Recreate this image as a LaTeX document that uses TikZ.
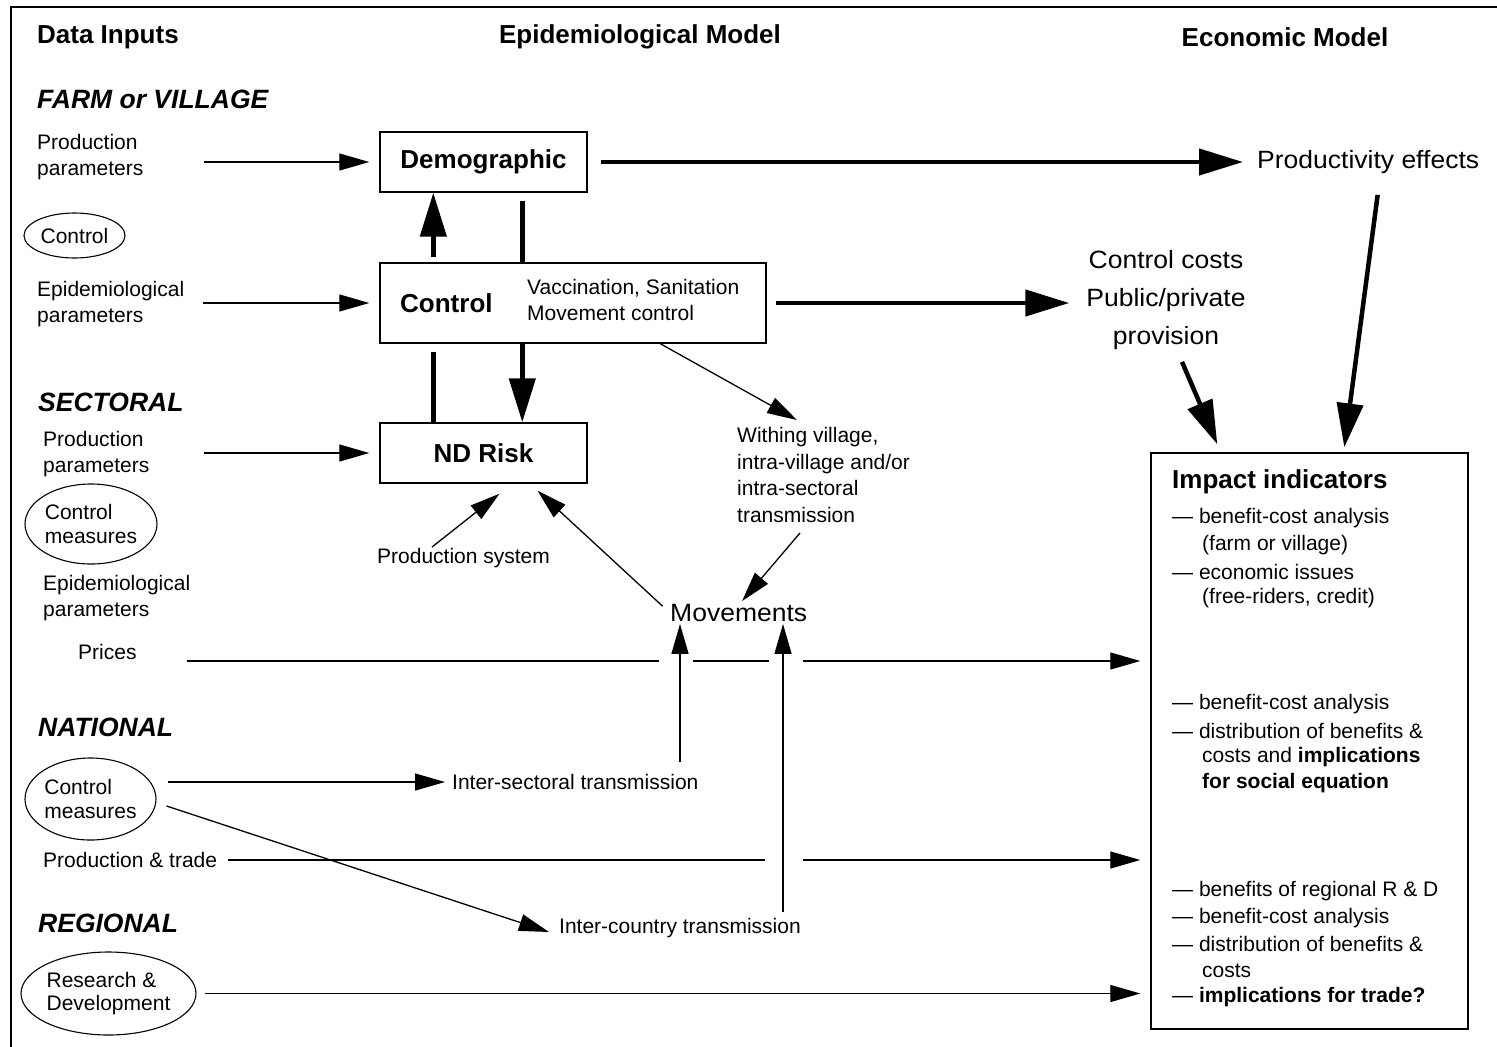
\documentclass[tikz,border=0pt]{standalone}
\usepackage{fontspec}
\setmainfont{Liberation Sans}
\newfontfamily\widefont[FakeStretch=1.06]{Liberation Sans}
\usetikzlibrary{arrows.meta,shapes.geometric,calc}
\begin{document}
\begin{tikzpicture}[x=1pt,y=-1pt,
  txt/.style={inner sep=0pt,font=\fontsize{21}{26}\selectfont,align=left},
  hdr/.style={inner sep=0pt,font=\fontsize{26}{30}\selectfont\bfseries},
  lvl/.style={inner sep=0pt,font=\fontsize{26.5}{30}\selectfont\bfseries\itshape},
  big/.style={inner sep=0pt,font=\widefont\fontsize{25}{38}\selectfont,align=center},
  boxn/.style={draw,line width=1.4pt,inner sep=0pt,font=\fontsize{26}{30}\selectfont\bfseries},
  btxt/.style={inner sep=0pt,font=\fontsize{26}{30}\selectfont\bfseries},
  ell/.style={draw,ellipse,line width=1.1pt,inner sep=0pt,font=\fontsize{21}{23.5}\selectfont,align=left},
  tarr/.style={line width=1.3pt,-{Triangle[length=30pt,width=17pt]}},
  karr/.style={line width=4.5pt,-{Triangle[length=44pt,width=26pt]}},
  kline/.style={line width=4.5pt}]
\useasboundingbox (0,0) rectangle (1497,1047);
% frame
\draw[line width=1.5pt] (11,1047) -- (11,7) -- (1497,7);

% headers
\node[hdr,anchor=west] (hdata) at (37,37) {Data Inputs};
\node[hdr] (hepi) at (640,37) {Epidemiological Model};
\node[hdr] (heco) at (1285,37) {Economic Model};
\node[lvl,anchor=west] (lfarm) at (37,99) {FARM or VILLAGE};
\node[lvl,anchor=west] (lsect) at (38,402) {SECTORAL};
\node[lvl,anchor=west] (lnat) at (38,727) {NATIONAL};
\node[lvl,anchor=west] (lreg) at (38,923) {REGIONAL};

% left inputs
\node[txt,anchor=west] (pp1) at (37,157.5) {Production\\parameters};
\node[ell,minimum width=101pt,minimum height=45pt] (ctl1) at (74.5,235.5) {Control};
\node[txt,anchor=west] (ep1) at (37,304) {Epidemiological\\parameters};
\node[txt,anchor=west] (pp2) at (43,454.5) {Production\\parameters};
\node[ell,minimum width=132pt,minimum height=80pt] (ctl2) at (91,524) {Control\\measures};
\node[txt,anchor=west] (ep2) at (43,598) {Epidemiological\\parameters};
\node[txt,anchor=west] (prices) at (78,652) {Prices};
\node[ell,minimum width=131pt,minimum height=82pt] (ctl3) at (90.5,799) {Control\\measures};
\node[txt,anchor=west] (ptrade) at (43,860) {Production \& trade};
\node[ell,minimum width=167pt,minimum height=83pt] (rd) at (108.5,993.5) {Research \&\\Development};

% epidemiological model
\node[boxn,minimum width=207pt,minimum height=60pt] (demo) at (483.5,162) {Demographic};
\node[boxn,minimum width=386pt,minimum height=80pt] (control) at (573,303) {};
\node[btxt,anchor=west] (ctltxt) at (400,303) {Control};
\node[txt,anchor=west] (vacc) at (527,300) {Vaccination, Sanitation\\Movement control};
\node[boxn,minimum width=207pt,minimum height=60pt] (ndrisk) at (483.5,453) {ND Risk};
\node[txt,anchor=west] (prodsys) at (377,558) {Production system};
\node[txt,anchor=west,font=\fontsize{21}{26.7}\selectfont] (withing) at (737,475) {Withing village,\\intra-village and/or\\intra-sectoral\\transmission};
\node[big,anchor=west] (mov) at (670,613) {Movements};
\node[txt,anchor=west] (intersec) at (452,782) {Inter-sectoral transmission};
\node[txt,anchor=west] (intercty) at (559,928) {Inter-country transmission};

% economic model
\node[big,anchor=west] (prodeff) at (1257,162) {Productivity effects};
\node[big] (costs) at (1166,300) {Control costs\\Public/private\\provision};
\node[draw,line width=1.4pt,inner sep=0pt,minimum width=317pt,minimum height=576pt] (impact) at (1309.5,741) {};
\node[btxt,anchor=west] (imph) at (1172,482) {Impact indicators};
\node[txt,anchor=west] (i1) at (1172,518) {— benefit-cost analysis};
\node[txt,anchor=west] (i2) at (1202,545) {(farm or village)};
\node[txt,anchor=west] (i3) at (1172,572) {— economic issues};
\node[txt,anchor=west] (i4) at (1202,598) {(free-riders, credit)};
\node[txt,anchor=west] (i5) at (1172,704) {— benefit-cost analysis};
\node[txt,anchor=west] (i6) at (1172,731) {— distribution of benefits \&};
\node[txt,anchor=west] (i7) at (1202,757) {costs and \textbf{implications}};
\node[txt,anchor=west] (i8) at (1202,783) {\textbf{for social equation}};
\node[txt,anchor=west] (i9) at (1172,891) {— benefits of regional R \& D};
\node[txt,anchor=west] (i10) at (1172,918) {— benefit-cost analysis};
\node[txt,anchor=west] (i11) at (1172,944) {— distribution of benefits \&};
\node[txt,anchor=west] (i12) at (1202,971) {costs};
\node[txt,anchor=west] (i13) at (1172,997) {— \textbf{implications for trade?}};

% input arrows
\draw[tarr,shorten <=60pt,shorten >=10pt] (pp1.east |- demo.west) -- (demo.west);
\draw[tarr,shorten <=19pt,shorten >=10pt] (ep1.east |- control.west) -- (control.west);
\draw[tarr,shorten <=54pt,shorten >=10pt] (pp2.east |- ndrisk.west) -- (ndrisk.west);

% thick arrows
\draw[karr,shorten <=13pt,shorten >=14pt] (demo.east) -- (prodeff.west);
\draw[karr,shorten <=9pt,shorten >=17pt] (control.east) -- (control.east -| costs.west);
\draw[karr,shorten <=5pt] ([xshift=54pt]control.north west) -- ([xshift=54pt]demo.south west);
\draw[kline,shorten <=8pt] ([xshift=143pt]demo.south west) -- ([xshift=143pt]control.north west);
\draw[kline,shorten >=8pt] ([xshift=54pt]ndrisk.north west) -- ([xshift=54pt]control.south west);
\draw[karr] ([xshift=143pt]control.south west) -- ([xshift=143pt]ndrisk.north west);
\draw[karr] ([xshift=9.5pt,yshift=-21pt]prodeff.south) -- ([xshift=194pt,yshift=5pt]impact.north west);
\draw[karr] ([xshift=16pt,yshift=-12pt]costs.south) -- ([xshift=67pt,yshift=8pt]impact.north west);

% thin arrows in the middle
\draw[tarr] ([xshift=281pt]control.south west) -- ([xshift=60pt,yshift=7pt]withing.north west);
\draw[tarr] ([xshift=63pt,yshift=-10pt]withing.south west) -- ([xshift=72pt,yshift=3pt]mov.north west);
\draw[tarr,shorten <=10pt] (mov.west) -- ([xshift=54pt,yshift=-7pt]ndrisk.south);
\draw[tarr] ([xshift=55pt,yshift=1pt]prodsys.north west) -- ([xshift=16pt,yshift=-10pt]ndrisk.south);

\coordinate (u1) at ([xshift=228pt,yshift=12pt]intersec.north west);
\coordinate (u2) at ([xshift=224pt,yshift=6pt]intercty.north west);
\draw[tarr] (u1) -- ([xshift=10pt,yshift=-2pt]mov.south west);
\draw[tarr] (u2) -- ([xshift=113pt,yshift=-2pt]mov.south west);

\draw[tarr,shorten <=11pt,shorten >=7pt] (ctl3.east |- intersec.west) -- (intersec.west);
\draw[tarr] ([xshift=10pt,yshift=-7pt]ctl3.east) -- ([xshift=-10pt,yshift=-4pt]intercty.west);

% long lines to impact indicators
\coordinate (pa) at ([xshift=50pt,yshift=-9pt]prices.east);
\coordinate (g1) at (pa -| u1);
\coordinate (g2) at (pa -| u2);
\coordinate (pe) at (pa -| impact.west);
\draw[tarr] (pa) -- ([xshift=-21pt]g1) ([xshift=13pt]g1) -- ([xshift=-14pt]g2) ([xshift=20pt]g2) -- ([xshift=-10pt]pe);

\coordinate (ta) at ([xshift=11pt]ptrade.east);
\coordinate (g3) at (ta -| u2);
\coordinate (te) at (ta -| impact.west);
\draw[tarr] (ta) -- ([xshift=-18pt]g3) ([xshift=20pt]g3) -- ([xshift=-10pt]te);

\draw[tarr,shorten <=8pt,shorten >=10pt] (rd.east) -- (rd.east -| impact.west);
\end{tikzpicture}
\end{document}
